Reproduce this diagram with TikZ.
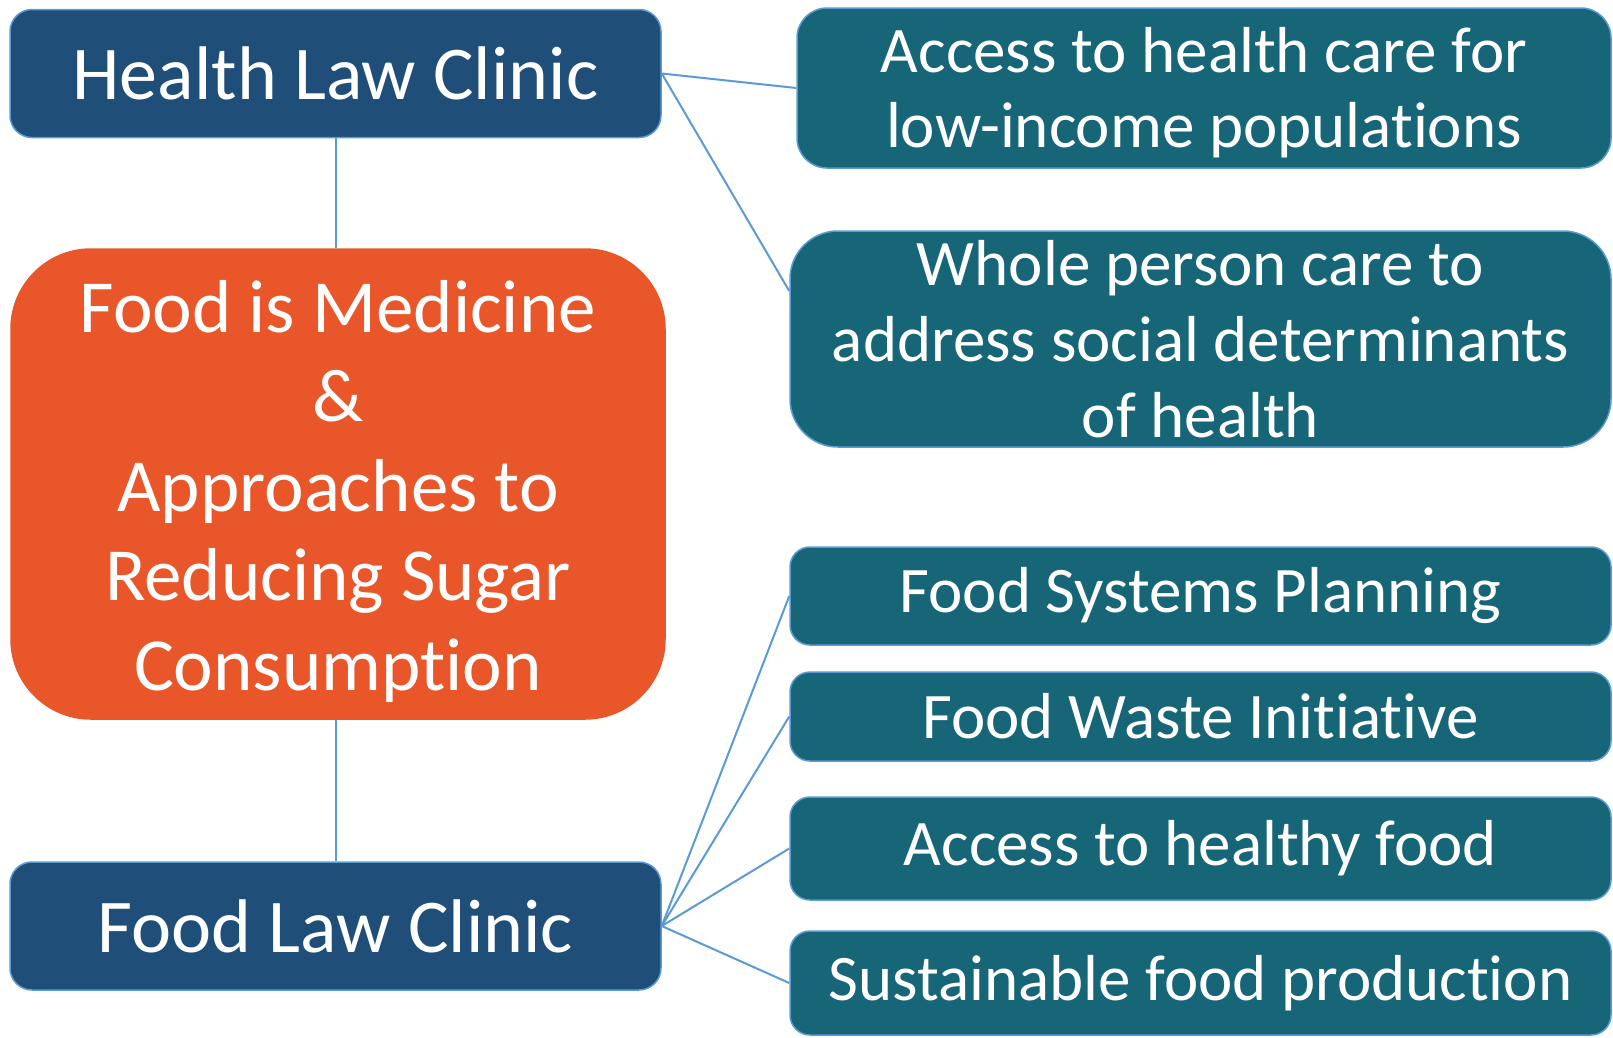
\documentclass[tikz,border=0pt]{standalone}
\usepackage{fontspec}
\setmainfont{Carlito}[Ligatures={NoCommon,NoContextual},RawFeature={-liga;-clig}]
\definecolor{clinicblue}{HTML}{1F4E79}
\definecolor{topicteal}{HTML}{176678}
\definecolor{coreorange}{HTML}{E8562A}
\definecolor{linkblue}{HTML}{5B9BD5}
\begin{document}
\begin{tikzpicture}[x=1pt,y=-1pt,
  box/.style={draw=linkblue, line width=1.5pt, text=white, inner sep=0pt, align=center},
  clinic/.style={box, fill=clinicblue, rounded corners=22pt, minimum width=651pt, minimum height=128pt,
    font=\fontsize{76}{90}\selectfont},
  topic/.style={box, fill=topicteal, rounded corners=20pt, minimum width=821pt,
    font=\fontsize{65}{76}\selectfont},
  core/.style={box, fill=coreorange, draw=coreorange, rounded corners=80pt, minimum width=654pt, minimum height=470pt},
  coretext/.style={text=white, inner sep=0pt, align=center, font=\fontsize{75}{89.5}\selectfont},
  topictext/.style={text=white, inner sep=0pt, align=center, font=\fontsize{65}{75}\selectfont},
  link/.style={draw=linkblue, line width=2pt}
]
\useasboundingbox (0,0) rectangle (1613,1037);

% left column
\node[clinic] (hlc) at (335.5,73.5) {Health Law Clinic};
\node[core] (core) at (338,484) {};
\node[coretext] (coret) at ([yshift=-7pt]core.center)
  {Food is Medicine\\ \&\\ Approaches to\\ Reducing Sugar\\ Consumption};
\node[clinic] (flc) at (335.5,926) {Food Law Clinic};

% health topics
\node[topic, minimum width=814pt, minimum height=160pt, rounded corners=30pt] (care) at (1204,88) {};
\node[topictext] (caret) at ([yshift=-5pt]care.center)
  {Access to health care for\\ low-income populations};
\node[topic, minimum height=216pt, rounded corners=48pt] (whole) at (1200.5,339)
  {Whole person care to\\ address social determinants\\ of health};

% food topics
\node[topic, minimum height=98pt] (plan) at (1200.5,596) {Food Systems Planning};
\node[topic, minimum height=89pt] (waste) at (1200.5,716.5) {Food Waste Initiative};
\node[topic, minimum height=103pt] (healthy) at (1200.5,848.5) {Access to healthy food};
\node[topic, minimum height=104pt] (sustain) at (1200.5,983) {Sustainable food production};

% connectors
\draw[link] (hlc.south) -- (hlc.south |- core.north);
\draw[link] (flc.north |- core.south) -- (flc.north);
\draw[link] (hlc.east) -- (care.west);
\draw[link] (hlc.east) -- ([yshift=48pt]whole.west);
\draw[link] (flc.east) -- (plan.west);
\draw[link] (flc.east) -- (waste.west);
\draw[link] (flc.east) -- (healthy.west);
\draw[link] (flc.east) -- (sustain.west);
\end{tikzpicture}
\end{document}
